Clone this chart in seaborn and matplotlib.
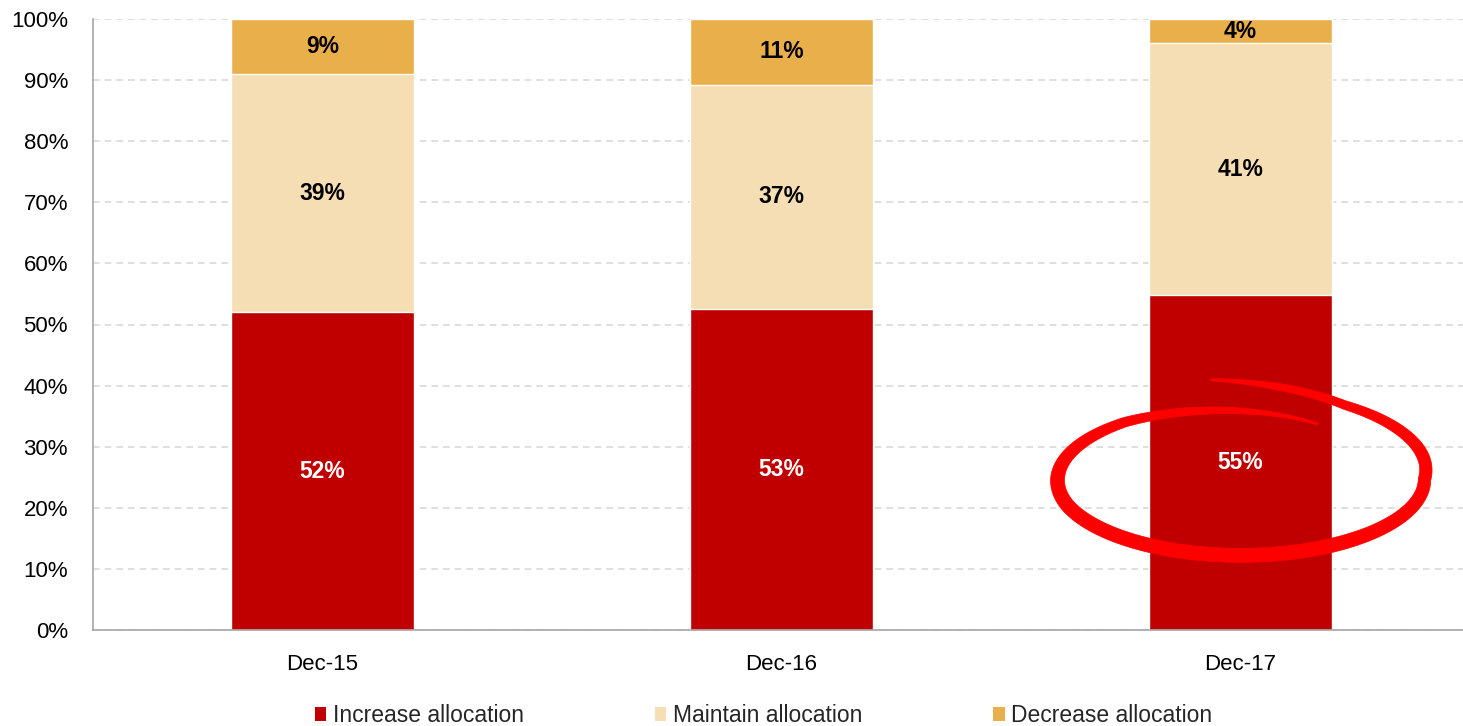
import numpy as np
import pandas as pd
import matplotlib
matplotlib.use("Agg")
import matplotlib.pyplot as plt
import seaborn as sns
from matplotlib.patches import Patch, Polygon
from matplotlib import font_manager as fm

categories = ["Dec-15", "Dec-16", "Dec-17"]
increase = [52.0, 52.6, 54.8]
maintain = [39.0, 36.6, 41.2]
decrease = [9.0, 10.8, 4.0]
series_names = ["Increase allocation", "Maintain allocation", "Decrease allocation"]
colors = ["#C00000", "#F5DEB3", "#E9AF4B"]
yticks = list(range(0, 101, 10))

sns.set_theme(style="white")
avail = {f.name for f in fm.fontManager.ttflist}
fam = "Liberation Sans Narrow" if "Liberation Sans Narrow" in avail else "Liberation Sans"
plt.rcParams["font.family"] = [fam, "DejaVu Sans"]

fig = plt.figure(figsize=(14.63, 7.26), dpi=100)
W, H = 1463, 726
ax = fig.add_axes([93 / W, (H - 630) / H, 1377 / W, 611 / H])

df = pd.DataFrame({"cat": categories,
                   "inc": increase, "main": maintain, "dec": decrease})
df["top2"] = df["inc"] + df["main"]
df["top3"] = df["top2"] + df["dec"]

sns.barplot(data=df, x="cat", y="top3", color=colors[2], width=0.4,
            edgecolor="white", linewidth=1, ax=ax, saturation=1)
sns.barplot(data=df, x="cat", y="top2", color=colors[1], width=0.4,
            edgecolor="white", linewidth=1, ax=ax, saturation=1)
sns.barplot(data=df, x="cat", y="inc", color=colors[0], width=0.4,
            edgecolor="white", linewidth=1, ax=ax, saturation=1)

ax.set_xlim(-0.5, 2.5)
ax.set_ylim(0, 100)
ax.set_yticks(yticks)
ax.set_yticklabels([f"{v}%" for v in yticks], fontsize=16, color="black")
ax.set_xlabel("")
ax.set_ylabel("")
ax.tick_params(axis="x", labelsize=16, colors="black", length=0, pad=17)
ax.tick_params(axis="y", length=0, pad=18)
ax.set_xticks([-0.5, 0.5, 1.5, 2.5], minor=True)
ax.tick_params(axis="x", which="minor", length=7, width=1.2, color="#A6A6A6", direction="out")
ax.yaxis.grid(True, linestyle=(0, (4, 3)), color="#D9D9D9", linewidth=1.2)
ax.set_axisbelow(True)
for s in ["top", "right"]:
    ax.spines[s].set_visible(False)
for s in ["left", "bottom"]:
    ax.spines[s].set_color("#A6A6A6")
    ax.spines[s].set_linewidth(1.2)

# value labels
for i in range(len(categories)):
    segs = [(0, increase[i], "white"),
            (increase[i], maintain[i], "black"),
            (increase[i] + maintain[i], decrease[i], "black")]
    for base, h, c in segs:
        ax.text(i, base + h / 2, f"{h:.0f}%", ha="center", va="center",
                fontsize=16.5, fontweight="bold", color=c)

# hand-drawn highlight around the last increase segment
fig.canvas.draw()
idx = len(categories) - 1
cx, cy = ax.transData.transform((idx, increase[idx] * 0.45))
a, b = 184, 76
th = np.radians(np.linspace(60, 457, 500))
deg = np.degrees(th)
r = np.interp(deg, [60, 130, 200, 360, 420, 457], [0.84, 0.98, 1.0, 1.0, 1.13, 1.32])
w = np.interp(deg, [60, 100, 180, 300, 380, 440, 457], [2, 7, 14, 14, 12, 7, 2])
px = cx + a * r * np.cos(th)
py = cy + b * r * np.sin(th)
dx = np.gradient(px)
dy = np.gradient(py)
n = np.hypot(dx, dy)
nx, ny = -dy / n, dx / n
outer = np.column_stack([px + nx * w / 2, py + ny * w / 2])
inner = np.column_stack([px - nx * w / 2, py - ny * w / 2])
pts = np.vstack([outer, inner[::-1]])
pts_data = ax.transData.inverted().transform(pts)
ax.add_patch(Polygon(pts_data, closed=True, facecolor="#FF0000", edgecolor="#FF0000",
                     linewidth=0.5, zorder=5, clip_on=False))

handles = [Patch(facecolor=c, edgecolor="none") for c in colors]
fig.legend(handles, series_names, loc="lower center", bbox_to_anchor=(0.522, -0.03),
           ncol=3, frameon=False, fontsize=16.5, handlelength=0.5, handleheight=0.5,
           handletextpad=0.3, columnspacing=5.7)

fig.savefig("out.png", dpi=100)
